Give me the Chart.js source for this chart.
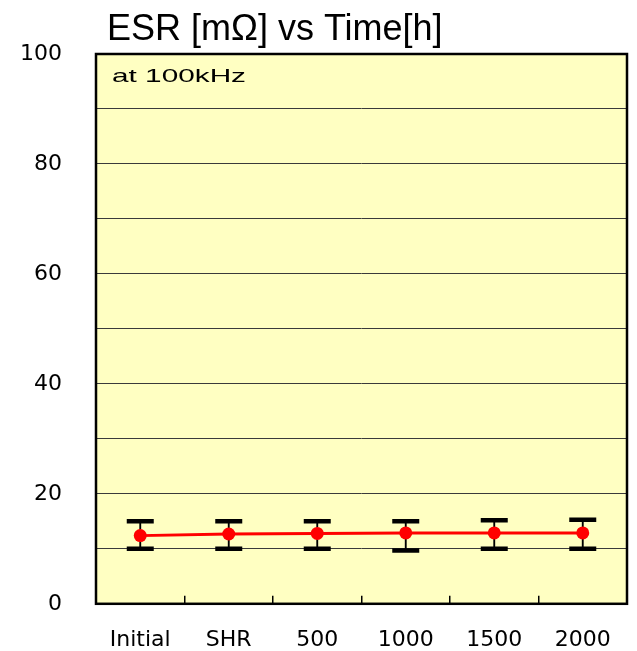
<!DOCTYPE html>
<html>
<head>
<meta charset="utf-8">
<script src="https://cdn.jsdelivr.net/npm/chart.js@4.4.1/dist/chart.umd.min.js"></script>
<style>
  html, body { margin: 0; padding: 0; background: #fff; overflow: hidden; }
  canvas { display: block; }
</style>
</head>
<body>
<canvas id="esr-chart" width="637" height="651"></canvas>
<script>
// ============ Data ============
const categories = ['Initial', 'SHR', '500', '1000', '1500', '2000'];
const esrMean = [12.4, 12.7, 12.8, 12.9, 12.9, 12.9];
const esrMax = [15.0, 15.0, 15.0, 15.0, 15.2, 15.3];
const esrMin = [10.0, 10.0, 10.0, 9.7, 10.0, 10.0];
const yTicks = [0, 20, 40, 60, 80, 100];

const titleText = 'ESR [m\u03A9] vs Time[h]';
const noteText = 'at 100kHz';

// ============ Plugins ============
// plot background + frame + title / note text
const framePlugin = {
    id: 'frame',
    beforeDraw(chart) {
        const { ctx, chartArea: a } = chart;
        ctx.save();
        ctx.fillStyle = '#FFFFC2';
        ctx.fillRect(a.left, a.top, a.right - a.left, a.bottom - a.top);
        ctx.restore();
    },
    afterDraw(chart) {
        const { ctx, chartArea: a } = chart;
        ctx.save();
        // frame
        ctx.strokeStyle = '#000';
        ctx.lineWidth = 2.5;
        ctx.strokeRect(a.left, a.top, a.right - a.left, a.bottom - a.top);

        // title
        ctx.fillStyle = '#000';
        ctx.font = '36px "Liberation Sans", Arial, sans-serif';
        ctx.textBaseline = 'alphabetic';
        ctx.textAlign = 'left';
        ctx.fillText(titleText, 107, 40);

        // note, stretched wide like the original
        ctx.font = '18.5px "Liberation Sans", Arial, sans-serif';
        const w = ctx.measureText(noteText).width;
        ctx.translate(a.left + 16, a.top + 28);
        ctx.scale(134 / w, 1);
        ctx.fillText(noteText, 0, 0);
        ctx.restore();
    }
};

// ============ Chart ============
const tickFont = { family: '"DejaVu Sans", sans-serif', size: 22, lineHeight: 1.2 };

new Chart(document.getElementById('esr-chart'), {
    data: {
        labels: categories,
        datasets: [
            {
                type: 'line',
                label: 'ESR',
                data: esrMean,
                borderColor: '#FF0000',
                borderWidth: 3,
                pointRadius: 6.5,
                pointHoverRadius: 6.5,
                pointBackgroundColor: '#FF0000',
                pointBorderWidth: 0,
                order: 0
            },
            {
                type: 'line',
                label: 'max',
                data: esrMax,
                showLine: false,
                pointStyle: 'line',
                pointRadius: 13.5,
                pointHoverRadius: 13.5,
                borderColor: '#000',
                pointBorderWidth: 4.5,
                order: 1
            },
            {
                type: 'line',
                label: 'min',
                data: esrMin,
                showLine: false,
                pointStyle: 'line',
                pointRadius: 13.5,
                pointHoverRadius: 13.5,
                borderColor: '#000',
                pointBorderWidth: 4.5,
                order: 1
            },
            {
                type: 'bar',
                label: 'range',
                data: esrMin.map((lo, i) => [lo, esrMax[i]]),
                backgroundColor: '#000',
                barThickness: 1.2,
                order: 2
            }
        ]
    },
    options: {
        responsive: false,
        animation: false,
        layout: { autoPadding: false, padding: { left: 20, right: 10, top: 54, bottom: 0 } },
        plugins: {
            legend: { display: false },
            tooltip: { enabled: false },
            title: { display: false }
        },
        scales: {
            x: {
                type: 'category',
                offset: true,
                border: { display: false },
                grid: {
                    offset: true,
                    drawOnChartArea: false,
                    drawTicks: true,
                    tickLength: -8,
                    color: '#000',
                    lineWidth: 1.5
                },
                ticks: {
                    color: '#000',
                    font: tickFont,
                    padding: 5,
                    maxRotation: 0,
                    // blank first line pushes the label down without side padding
                    callback: (v, i) => ['', categories[i]]
                },
                afterFit: (s) => {
                    s.height = 45;
                }
            },
            y: {
                min: 0,
                max: 100,
                border: { display: false },
                grid: { color: '#3a3a3a', lineWidth: 1, drawTicks: false },
                ticks: {
                    stepSize: 10,
                    color: '#000',
                    font: tickFont,
                    padding: 34,
                    callback: (v) => yTicks.includes(v) ? String(v) : ''
                },
                afterFit: (s) => {
                    s.width = 76;
                }
            }
        }
    },
    plugins: [framePlugin]
});
</script>
</body>
</html>
